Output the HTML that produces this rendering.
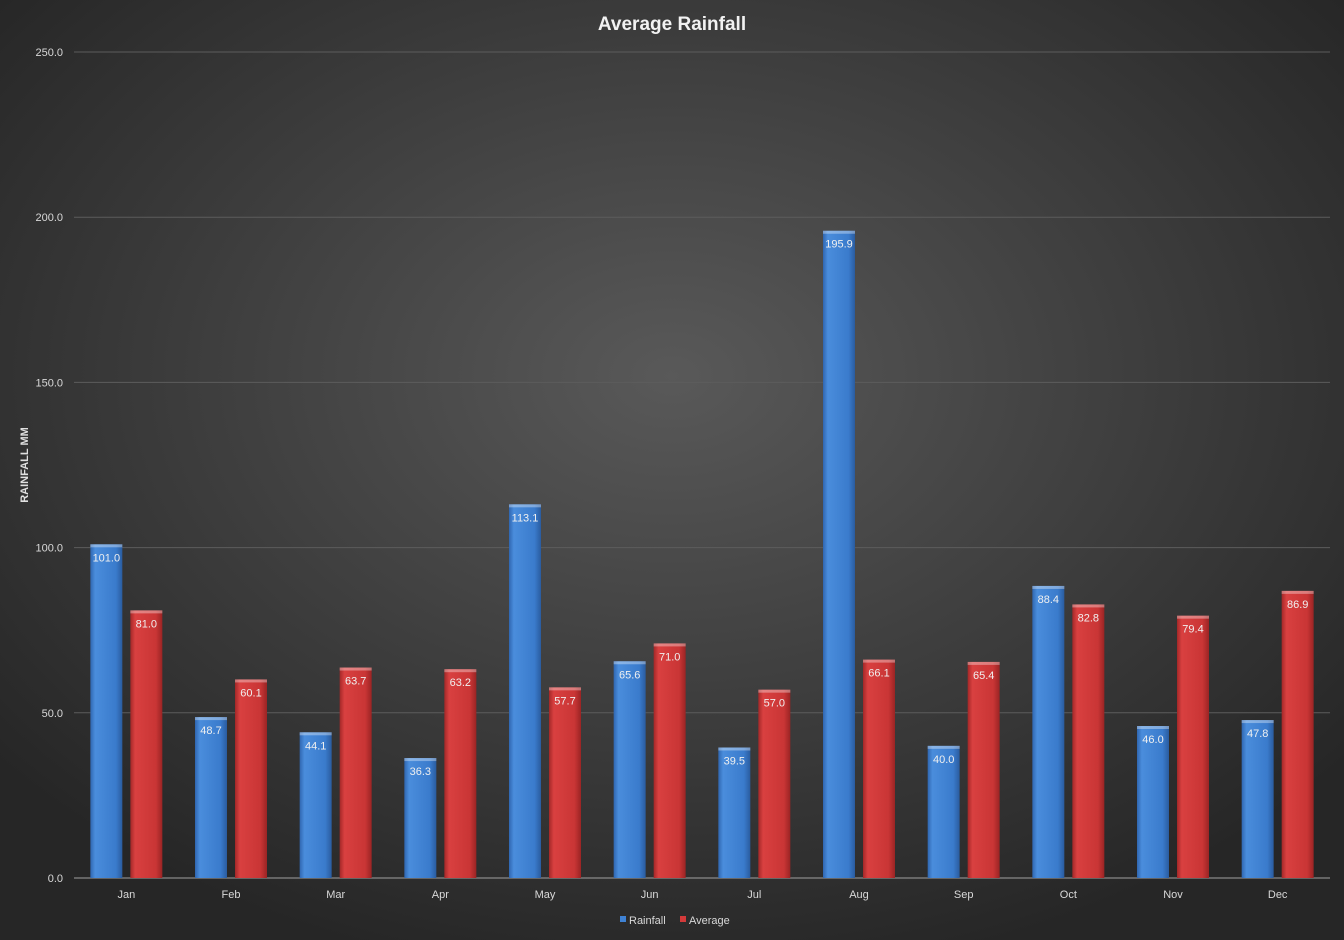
<!DOCTYPE html>
<html><head><meta charset="utf-8"><style>
html,body{margin:0;padding:0;width:1344px;height:940px;overflow:hidden;background:#2e2e2e}
svg{display:block;font-family:"Liberation Sans",sans-serif}
</style></head><body>
<svg id="chart" width="1344" height="940" viewBox="0 0 1344 940">
<defs>
<radialGradient id="bg" cx="50%" cy="40%" r="65%">
<stop offset="0" stop-color="#595959"/><stop offset="1" stop-color="#262626"/></radialGradient>
<linearGradient id="gb" x1="0" x2="1" y1="0" y2="0">
<stop offset="0" stop-color="#2f66b0"/><stop offset="0.15" stop-color="#4a8ddc"/><stop offset="0.8" stop-color="#3a7bcc"/><stop offset="1" stop-color="#2a5c9f"/></linearGradient>
<linearGradient id="gr" x1="0" x2="1" y1="0" y2="0">
<stop offset="0" stop-color="#a32828"/><stop offset="0.15" stop-color="#d94040"/><stop offset="0.8" stop-color="#c93535"/><stop offset="1" stop-color="#9a2424"/></linearGradient>
</defs>
<rect width="1344" height="940" fill="url(#bg)"/>
<text x="672" y="30" text-anchor="middle" font-size="19" font-weight="bold" fill="#f2f2f2">Average Rainfall</text>
<text transform="translate(28,465) rotate(-90)" text-anchor="middle" font-size="11" font-weight="bold" fill="#e0e0e0">RAINFALL MM</text>
<g id="grid"></g><g id="bars"></g>
<g>
<rect x="620" y="916" width="6" height="6" fill="#3f82d4"/>
<text x="629" y="924" font-size="11" fill="#d9d9d9">Rainfall</text>
<rect x="680" y="916" width="6" height="6" fill="#d33a3a"/>
<text x="689" y="924" font-size="11" fill="#d9d9d9">Average</text>
</g>
</svg>
<script>
const categories=["Jan","Feb","Mar","Apr","May","Jun","Jul","Aug","Sep","Oct","Nov","Dec"];
const rainfall=[101.0,48.7,44.1,36.3,113.1,65.6,39.5,195.9,40.0,88.4,46.0,47.8];
const average=[81.0,60.1,63.7,63.2,57.7,71.0,57.0,66.1,65.4,82.8,79.4,86.9];
const yTicks=[0,50,100,150,200,250];
const NS="http://www.w3.org/2000/svg";
const x0=74,x1=1330,y0=878,y1=52,yMax=250;
const bw=(x1-x0)/categories.length;
const y=v=>y0-(v/yMax)*(y0-y1);
const xc=i=>x0+bw*(i+0.5);
function mk(t,a,p){const e=document.createElementNS(NS,t);for(const k in a)e.setAttribute(k,a[k]);p.appendChild(e);return e;}
const grid=document.getElementById('grid'),bars=document.getElementById('bars');
yTicks.forEach(t=>{
 const l=mk('line',{x1:x0,x2:x1,y1:y(t),y2:y(t),stroke:t===0?'#a0a0a0':'#5c5c5c','stroke-width':1},grid);
 
 
 const tx=mk('text',{x:63,y:y(t)+4,'text-anchor':'end','font-size':11,fill:'#d9d9d9'},grid);
 tx.textContent=t.toFixed(1);
 
 
});
function bar(v,x,fill,name){
 const r=mk('rect',{x:x,y:y(v),width:32,height:y0-y(v),fill:fill},bars);
 
 
 mk('rect',{x:x,y:y(v),width:32,height:3,fill:'rgba(255,255,255,0.35)'},bars);
 const t=mk('text',{x:x+16,y:y(v)+17,'text-anchor':'middle','font-size':11,fill:'#f0f0f0'},bars);
 t.textContent=v.toFixed(1);
 
 
}
categories.forEach((c,i)=>{
 const cx=xc(i);
 bar(rainfall[i],cx-36,'url(#gb)','bar-rainfall-'+c.toLowerCase());
 bar(average[i],cx+4,'url(#gr)','bar-average-'+c.toLowerCase());
 const t=mk('text',{x:cx,y:898,'text-anchor':'middle','font-size':11,fill:'#d9d9d9'},bars);
 t.textContent=c;
 
 
});
</script>
</body></html>
